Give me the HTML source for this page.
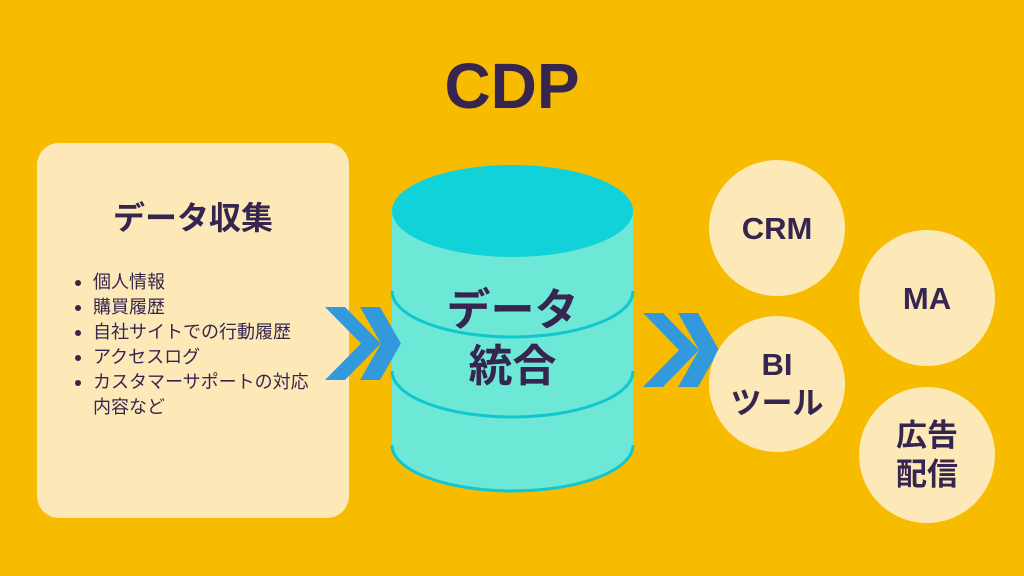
<!DOCTYPE html>
<html><head><meta charset="utf-8"><style>
body{margin:0;width:1024px;height:576px;background:#F7BC00;position:relative;overflow:hidden;font-family:"Liberation Sans","Noto Sans CJK JP",sans-serif;color:#35254F}
.abs{position:absolute}
.card{left:37px;top:143px;width:312px;height:375px;background:#FDE9B8;border-radius:22px}
.circ{width:136px;height:136px;border-radius:50%;background:#FDE9B8;display:flex;align-items:center;justify-content:center;text-align:center;font-weight:bold;font-size:31px;line-height:39px}
ul{margin:0;padding:0;list-style:none}
li{position:relative;padding-left:20px;font-size:18px;line-height:25px;white-space:nowrap}
li:before{content:"";position:absolute;left:2px;top:10px;width:6px;height:6px;border-radius:50%;background:#35254F}
</style></head><body>
<div class="abs" style="left:0;width:1024px;top:46px;text-align:center;font-size:64px;font-weight:bold;line-height:80px">CDP</div>
<div class="abs card"></div>
<div class="abs" style="left:37px;width:312px;top:196px;text-align:center;font-size:32px;font-weight:bold;line-height:44px">データ収集</div>
<ul class="abs" style="left:73px;top:270px;width:270px">
<li>個人情報</li><li>購買履歴</li><li>自社サイトでの行動履歴</li><li>アクセスログ</li><li>カスタマーサポートの対応<br>内容など</li></ul>
<svg class="abs" style="left:0;top:0" width="1024" height="576">
<path d="M392 211 V445 A120.5 46 0 0 0 633 445 V211 Z" fill="#6EE8D6"/>
<path d="M392 445 A120.5 46 0 0 0 633 445" fill="none" stroke="#10C6D0" stroke-width="3"/>
<path d="M392 291 A120.5 46 0 0 0 633 291" fill="none" stroke="#10C6D0" stroke-width="3"/>
<path d="M392 371 A120.5 46 0 0 0 633 371" fill="none" stroke="#10C6D0" stroke-width="3"/>
<ellipse cx="512.5" cy="211" rx="120.5" ry="46" fill="#10D2D8"/>
<g fill="#3399DD">
<path d="M325 307 H345 L381 343.5 L345 380 H325 L361 343.5 Z"/>
<path d="M360 307 H380 L401 343.5 L380 380 H360 L381 343.5 Z"/>
<path d="M643 313 H663 L699 350 L663 387 H643 L679 350 Z"/>
<path d="M678 313 H698 L719 350 L698 387 H678 L699 350 Z"/>
</g></svg>
<div class="abs" style="left:392px;width:241px;top:283px;text-align:center;font-size:44px;font-weight:bold;line-height:56px">データ<br>統合</div>
<div class="abs circ" style="left:709px;top:160px">CRM</div>
<div class="abs circ" style="left:859px;top:230px">MA</div>
<div class="abs circ" style="left:709px;top:316px">BI<br>ツール</div>
<div class="abs circ" style="left:859px;top:387px">広告<br>配信</div>
</body></html>
